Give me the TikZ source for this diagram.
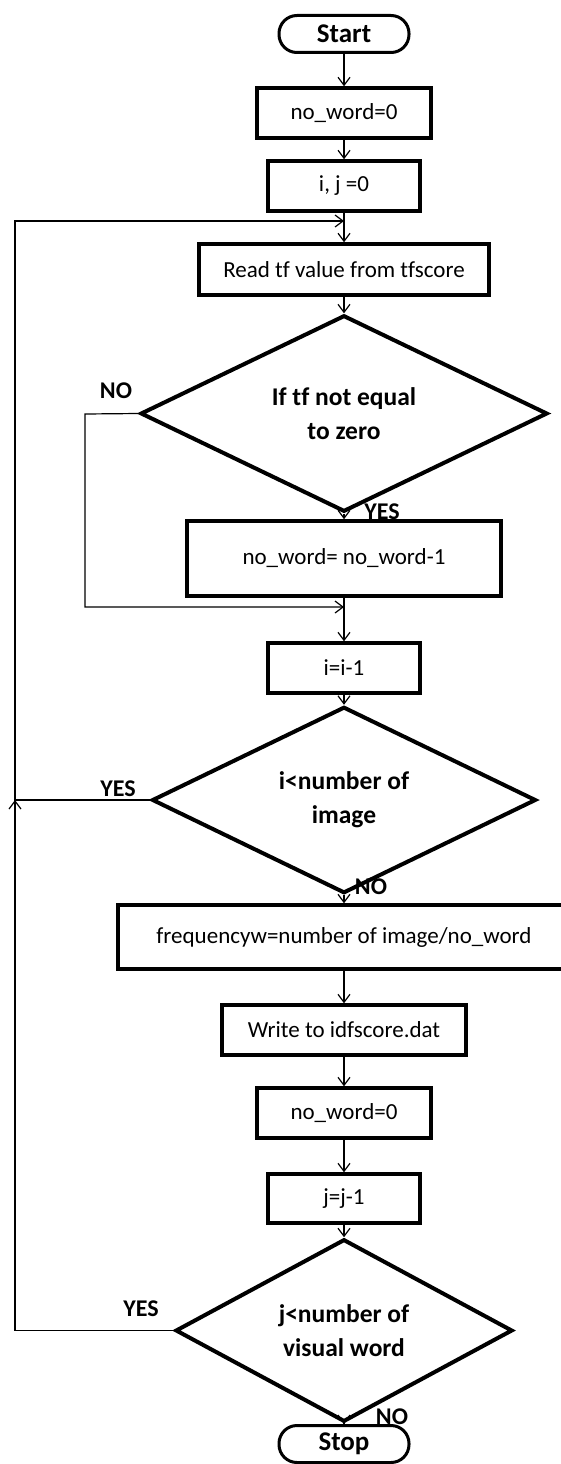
\documentclass[tikz,border=0pt]{standalone}
\usepackage{fontspec}
\setmainfont{Carlito}[Ligatures={NoCommon}]
\usetikzlibrary{arrows.meta,shapes.geometric}
\begin{document}
\begin{tikzpicture}[x=1pt,y=-1pt,
  proc/.style={draw, line width=3.5pt, inner sep=0pt, minimum height=50pt,
    font=\fontsize{23}{26}\selectfont},
  term/.style={draw, line width=3pt, rounded corners=18pt, inner sep=0pt,
    minimum width=130pt, minimum height=37pt,
    font=\bfseries\fontsize{27}{30}\selectfont},
  decision/.style={draw, diamond, line width=4pt, inner sep=0pt, align=center,
    font=\bfseries\fontsize{25.5}{34}\selectfont},
  flow/.style={line width=1.2pt, -{Straight Barb[length=8pt,width=12pt,line width=1.2pt]}},
  lbl/.style={inner sep=0pt, font=\bfseries\fontsize{24}{26}\selectfont}
]
\useasboundingbox (0,0) rectangle (561,1464);

% steps of the flow, top to bottom
\node[term] (start) at (344,34) {Start};
\node[proc, minimum width=174pt] (nw1) at (344,113) {no\_word=0};
\node[proc, minimum width=152pt] (ij) at (344,186) {i, j =0};
\node[proc, minimum width=290pt, minimum height=51pt] (read) at (344,269.5) {Read tf value from tfscore};
\node[decision, minimum width=407pt, minimum height=143pt] (d1) at (344,413.5) {If tf not equal\\to zero};
\node[proc, minimum width=314pt, minimum height=75pt] (dec) at (344,558.5) {no\_word= no\_word-1};
\node[proc, minimum width=152pt] (ii) at (344,668) {i=i-1};
\node[decision, minimum width=384pt, minimum height=144pt] (d2) at (344,800) {i<number of\\image};
\node[proc, minimum width=452pt, minimum height=64pt] (freq) at (344,937) {frequencyw=number of image/no\_word};
\node[proc, minimum width=244pt] (write) at (344,1030) {Write to idfscore.dat};
\node[proc, minimum width=174pt] (nw2) at (344,1113) {no\_word=0};
\node[proc, minimum width=152pt, minimum height=49pt] (jj) at (344,1198.5) {j=j-1};
\node[decision, minimum width=337pt, minimum height=145pt] (d3) at (344,1330.5) {j<number of\\visual word};
\node[term] (stop) at (344,1444) {Stop};

% junction points of the loops
\coordinate (loopin) at (344,221);
\coordinate (merge) at (344,607);
\coordinate (rail) at (15,800);
\coordinate (nobend) at (85,414);

% main line
\draw[flow] (start) -- (nw1);
\draw[flow] (nw1) -- (ij);
\draw[flow] (ij) -- (read);
\draw[flow] (read) -- (d1);
\draw[flow] (d1) -- (dec);
\draw[flow] (dec) -- (ii);
\draw[flow] (ii) -- (d2);
\draw[flow] (d2) -- (freq);
\draw[flow] (freq) -- (write);
\draw[flow] (write) -- (nw2);
\draw[flow] (nw2) -- (jj);
\draw[flow] (jj) -- (d3);
\draw[flow] (d3) -- (stop);

% branches and loops
\draw[flow] (d1.west) -- (nobend) |- (merge);
\draw[flow] (d2.west) -- (rail) |- (loopin);
\draw[flow] (d3.west) -| (rail);

% branch labels
\node[lbl] (l1) at (116,391) {NO};
\node[lbl] (l2) at (382,512) {YES};
\node[lbl] (l3) at (118,789) {YES};
\node[lbl] (l4) at (371,887) {NO};
\node[lbl] (l5) at (141,1309) {YES};
\node[lbl] (l6) at (392,1417) {NO};
\end{tikzpicture}
\end{document}
